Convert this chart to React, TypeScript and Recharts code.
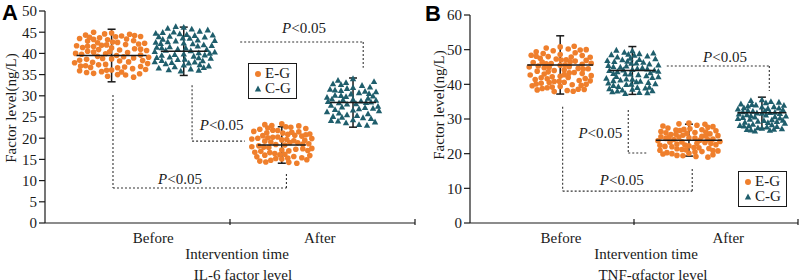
import React from 'react';
import { ScatterChart, Scatter, XAxis, YAxis, ErrorBar, ReferenceLine, ReferenceDot, Legend } from 'recharts';

const ORANGE = '#EF7F2C';
const TEAL = '#1F5E6C';
const INK = '#1a1a1a';
const SERIF = '"Liberation Serif", "Times New Roman", serif';
const SANS = '"Liberation Sans", Arial, sans-serif';

const categories = ['Before', 'After'];
const groups = ['E-G', 'C-G'];

// IL-6 (ng/L), individual values
const il6EgBefore = [44.8, 36.1, 41.3, 38.7, 43.2, 35.0, 39.9, 42.6, 37.4, 40.8, 34.6, 44.1, 38.2, 41.9, 36.8, 43.7, 39.3, 35.7, 42.1, 40.2, 37.9, 44.5, 36.4, 41.6, 38.9, 43.0, 35.3, 40.5, 42.9, 37.1, 39.6, 44.0, 36.9, 41.1, 38.4, 43.5, 34.9, 40.0, 42.4, 37.6, 45.0, 39.1, 35.9, 41.8, 38.0, 43.9, 36.2, 40.7, 42.2, 37.3, 39.5, 44.3, 35.5, 41.4, 38.6, 43.3, 36.6, 40.3, 42.7, 37.8, 34.4, 39.8, 44.6, 36.0, 41.0, 38.3, 43.8, 35.2, 40.9, 42.0, 37.0, 39.2, 44.2, 36.7, 41.7, 38.8, 43.4, 35.6, 40.4, 42.5];
const il6CgBefore = [46.1, 37.2, 42.4, 39.8, 44.6, 36.3, 41.0, 43.5, 38.5, 40.6, 45.7, 37.9, 42.9, 39.1, 44.0, 36.8, 41.5, 43.1, 38.2, 40.1, 45.2, 36.0, 42.0, 39.5, 44.9, 37.5, 41.3, 43.8, 38.8, 40.4, 46.3, 37.0, 42.6, 39.3, 44.3, 36.5, 41.8, 43.3, 38.0, 40.9, 45.5, 37.7, 42.2, 39.7, 44.7, 36.1, 41.2, 43.6, 38.6, 40.3, 45.0, 37.3, 42.7, 39.0, 44.2, 36.6, 41.7, 43.0, 38.3, 40.7, 45.9, 37.8, 42.3, 39.6, 44.4, 35.8, 41.4, 43.9, 38.9, 40.0];
const il6EgAfter = [23.4, 15.1, 19.6, 17.2, 21.8, 14.3, 18.5, 20.9, 16.4, 19.0, 22.6, 15.7, 20.2, 17.8, 21.3, 14.8, 18.9, 20.5, 16.0, 19.3, 23.0, 15.4, 20.0, 17.5, 22.1, 14.6, 18.2, 21.0, 16.7, 19.8, 22.9, 15.9, 20.7, 17.0, 21.6, 14.1, 18.7, 20.3, 16.2, 19.5, 23.2, 15.2, 19.9, 17.4, 22.3, 14.9, 18.0, 21.2, 16.6, 19.1, 22.7, 15.6, 20.6, 17.9, 21.5, 14.4, 18.4, 20.8, 16.9, 19.4, 22.4, 15.3, 20.1, 17.6, 21.9, 16.1, 18.6, 21.4, 17.1, 19.7];
const il6CgAfter = [34.0, 24.3, 29.1, 26.6, 31.9, 23.2, 28.0, 30.7, 25.5, 28.7, 33.1, 24.8, 29.8, 27.2, 32.4, 23.6, 28.3, 31.2, 25.9, 29.4, 33.6, 24.0, 30.1, 27.0, 32.0, 23.0, 27.7, 30.9, 26.2, 28.9, 33.3, 24.6, 29.6, 26.9, 31.5, 25.1, 28.5, 30.4, 26.4, 29.2, 32.8, 24.1, 30.0, 27.5, 31.7, 23.8, 28.1, 31.0, 25.7, 29.0, 32.6, 24.9, 29.9, 27.3, 31.3, 25.3, 28.6, 30.5, 26.7, 28.4];
// mean and SD, order: E-G before, C-G before, E-G after, C-G after
const il6Mean = [39.5, 40.5, 18.4, 28.4];
const il6Sd = [6.2, 5.7, 4.3, 5.8];

// TNF-α (ng/L), individual values
const tnfEgBefore = [50.8, 39.4, 45.5, 42.3, 48.6, 38.2, 44.0, 47.1, 40.8, 46.0, 49.7, 39.9, 45.1, 41.6, 48.0, 37.9, 43.4, 46.7, 40.3, 44.8, 50.2, 39.0, 45.8, 42.0, 49.1, 38.6, 43.8, 47.5, 41.1, 46.3, 50.5, 40.0, 44.5, 42.7, 48.3, 38.4, 43.1, 47.8, 41.4, 45.3, 49.4, 39.6, 46.1, 42.5, 48.9, 38.0, 44.2, 47.3, 40.6, 45.0, 50.0, 39.2, 45.9, 41.9, 48.4, 38.8, 43.6, 46.9, 41.0, 44.6, 49.9, 40.1, 45.6, 42.2, 47.9, 38.5, 43.0, 46.5, 40.5, 44.4, 51.0, 39.7, 46.4, 42.8, 48.1, 41.7, 43.3, 47.0, 40.9, 44.9];
const tnfCgBefore = [49.6, 38.5, 44.2, 41.4, 47.5, 37.6, 43.0, 46.1, 39.9, 44.7, 48.8, 38.9, 43.6, 40.8, 47.0, 37.3, 42.4, 45.8, 39.3, 44.0, 49.2, 38.1, 43.9, 41.0, 48.1, 37.8, 42.7, 46.5, 40.1, 45.2, 49.8, 39.0, 44.4, 41.7, 47.3, 38.3, 42.1, 46.8, 40.5, 45.5, 48.5, 38.7, 44.9, 41.2, 47.8, 37.5, 43.3, 46.3, 40.3, 45.0, 49.0, 39.6, 43.7, 41.9, 48.3, 38.0, 42.9, 46.0, 40.7, 44.5, 48.6, 39.1, 45.4, 42.2, 47.1, 40.0, 43.1, 46.6, 41.5, 44.1];
const tnfEgAfter = [28.8, 20.1, 24.6, 22.3, 27.0, 19.2, 23.4, 26.1, 21.2, 25.0, 28.2, 20.6, 24.1, 22.0, 26.8, 19.5, 23.0, 25.7, 21.5, 24.4, 28.5, 20.3, 25.2, 22.6, 27.4, 19.0, 23.7, 26.4, 21.0, 24.8, 27.8, 20.8, 25.5, 22.1, 26.9, 19.7, 23.2, 26.0, 21.8, 24.2, 28.0, 20.0, 24.9, 22.8, 27.2, 19.4, 23.5, 25.9, 21.4, 24.5, 28.6, 20.5, 25.3, 22.4, 26.6, 19.9, 23.9, 26.2, 21.7, 24.0, 27.6, 20.9, 25.1, 22.5, 26.7, 21.1, 23.3, 25.6, 22.9, 24.7];
const tnfCgAfter = [35.5, 27.3, 31.6, 29.5, 34.0, 26.7, 30.5, 33.0, 28.4, 31.9, 35.0, 27.8, 31.2, 29.0, 33.7, 26.9, 30.2, 32.6, 28.7, 31.4, 34.8, 27.1, 32.2, 29.7, 34.3, 26.5, 30.8, 33.4, 28.1, 31.8, 35.3, 27.6, 32.0, 29.3, 33.5, 27.0, 30.4, 32.8, 28.9, 31.1, 34.6, 27.4, 31.7, 29.9, 33.9, 26.8, 30.1, 33.1, 28.3, 31.5, 34.1, 28.0, 32.4, 29.2, 33.2, 27.9, 30.6, 32.3, 29.6, 30.9];
const tnfMean = [45.6, 44.0, 23.9, 31.8];
const tnfSd = [8.4, 6.9, 4.6, 4.5];

const il6Ticks = [0, 5, 10, 15, 20, 25, 30, 35, 40, 45, 50];
const tnfTicks = [0, 10, 20, 30, 40, 50, 60];
const pText = '<0.05';

const HEIGHT = 280;
const X_AXIS_H = 57;
const X_MAX = 4;

const panels = [
  {
    letter: 'A', left: 0, width: 420, yAxisW: 45, top: 11, right: 5,
    yMax: 50, yTicks: il6Ticks,
    series: [[il6EgBefore, il6EgAfter], [il6CgBefore, il6CgAfter]],
    mean: il6Mean, sd: il6Sd,
    groupX: [0.72, 1.5, 2.56, 3.33],
    spreadW: [76, 64, 62, 54],
    meanW: [70, 46, 48, 46],
    labelX: [1.17, 2.97],
    title: 'IL-6 factor level', titleDx: [7, 13],
    yTitle: { x: 16, y: 108 }, letterPos: { x: 2, y: 20 },
    legend: { left: 248, top: 63 },
    brackets: [
      [[2.11, 42.7], [3.44, 42.7], [3.44, 36.6]],
      [[1.59, 32.5], [1.59, 19.3], [2.16, 19.3]],
      [[0.735, 30.2], [0.735, 8.25], [2.61, 8.25], [2.61, 11.8]],
    ],
    pLabels: [[2.8, 44.8], [1.91, 21.9], [1.46, 9.2]],
  },
  {
    letter: 'B', left: 400, width: 400, yAxisW: 70, top: 15, right: 2,
    yMax: 60, yTicks: tnfTicks,
    series: [[tnfEgBefore, tnfEgAfter], [tnfCgBefore, tnfCgAfter]],
    mean: tnfMean, sd: tnfSd,
    groupX: [1.1, 1.98, 2.67, 3.56],
    spreadW: [64, 54, 64, 50],
    meanW: [66, 46, 66, 49],
    labelX: [1.11, 3.15],
    title: 'TNF-αfactor level', titleDx: [12, 19],
    yTitle: { x: 44, y: 105 }, letterPos: { x: 25, y: 21 },
    legend: { left: 338, top: 171 },
    brackets: [
      [[2.4, 45.3], [3.65, 45.3], [3.65, 38.1]],
      [[1.93, 32.6], [1.93, 20.2], [2.16, 20.2]],
      [[1.13, 33.5], [1.13, 9.2], [2.71, 9.2], [2.71, 15.9]],
    ],
    pLabels: [[3.11, 46.4], [1.59, 24.5], [1.85, 11.0]],
  },
];

// spread points sideways so they don't pile up (dot-plot layout)
function swarm(values: number[], center: number, widthPx: number, pxPerX: number, pxPerY: number) {
  const D2 = 7.5 * 7.5;
  const lo = Math.min(...values), hi = Math.max(...values);
  const mid = (lo + hi) / 2, half = (hi - lo) / 2 || 1;
  const placed: Array<[number, number]> = [];
  return values.map((v, i) => {
    const py = v * pxPerY;
    const t = (v - mid) / half;
    const hw = Math.floor((widthPx / 2) * (0.62 + 0.38 * Math.sqrt(Math.max(0, 1 - t * t))));
    const s = i % 2 ? 1 : -1;
    let best = 0, bestScore = -1;
    for (let k = 0; k <= 2 * hw; k++) {
      const c = k === 0 ? 0 : (k % 2 ? s : -s) * Math.ceil(k / 2);
      let d = D2;
      for (const [qx, qy] of placed) {
        const dd = (qx - c) ** 2 + (qy - py) ** 2;
        if (dd < d) d = dd;
      }
      if (d > bestScore) { best = c; bestScore = d; }
    }
    placed.push([best, py]);
    return { x: center + best / pxPerX, y: v };
  });
}

const DotShape = (p: any) => <circle cx={p.cx} cy={p.cy} r={2.8} fill={ORANGE} />;
const TriShape = (p: any) => (
  <path d={`M${p.cx},${p.cy - 3.5}L${p.cx + 3.2},${p.cy + 2.3}L${p.cx - 3.2},${p.cy + 2.3}Z`} fill={TEAL} />
);
const MeanShape = (p: any) => (
  <line x1={p.cx - p.payload.w / 2} x2={p.cx + p.payload.w / 2} y1={p.cy} y2={p.cy} stroke={INK} strokeWidth={1.5} />
);

function LegendBox({ payload }: any) {
  const items = (payload || [])
    .filter((e: any) => groups.includes(e.value))
    .sort((a: any, b: any) => groups.indexOf(a.value) - groups.indexOf(b.value));
  return (
    <div style={{ border: `1px solid ${INK}`, padding: '2px 5px 2px 4px', fontFamily: SERIF, fontSize: 15, lineHeight: '15px', background: '#fff', color: INK }}>
      {items.map((e: any) => (
        <div key={e.value} style={{ display: 'flex', alignItems: 'center', whiteSpace: 'nowrap' }}>
          <svg width={10} height={10} style={{ marginRight: 2 }}>
            {e.value === groups[0]
              ? <circle cx={5} cy={5} r={3} fill={ORANGE} />
              : <path d="M5,1.5L8.2,7.5L1.8,7.5Z" fill={TEAL} />}
          </svg>
          <span>{e.value}</span>
        </div>
      ))}
    </div>
  );
}

function Panel({ cfg }: { cfg: typeof panels[number] }) {
  const plotW = cfg.width - cfg.yAxisW - cfg.right;
  const plotH = HEIGHT - cfg.top - X_AXIS_H;
  const pxPerX = plotW / X_MAX;
  const pxPerY = plotH / cfg.yMax;
  const plotBottom = cfg.top + plotH;
  const plotCx = cfg.yAxisW + plotW / 2;

  const pointsFor = (gi: number) =>
    [0, 1].flatMap((ci) => swarm(cfg.series[gi][ci], cfg.groupX[ci * 2 + gi], cfg.spreadW[ci * 2 + gi], pxPerX, pxPerY));
  const eg = pointsFor(0);
  const cg = pointsFor(1);
  const summary = cfg.mean.map((m, i) => ({ x: cfg.groupX[i], y: m, sd: cfg.sd[i], w: cfg.meanW[i] }));

  const xTicks = [cfg.labelX[0], X_MAX / 2, cfg.labelX[1], X_MAX];
  const renderXTick = (p: any) => {
    const i = cfg.labelX.indexOf(p.payload.value);
    if (i >= 0) {
      return <text x={p.x} y={p.y + 18} textAnchor="middle" fontFamily={SERIF} fontSize={15} fill={INK}>{categories[i]}</text>;
    }
    return <line x1={p.x} x2={p.x} y1={p.y} y2={p.y - 6} stroke={INK} strokeWidth={1.2} />;
  };

  return (
    <div style={{ position: 'absolute', left: cfg.left, top: 0 }}>
      <ScatterChart width={cfg.width} height={HEIGHT} margin={{ top: cfg.top, right: cfg.right, bottom: 0, left: 0 }}>
        <XAxis
          type="number" dataKey="x" domain={[0, X_MAX]} ticks={xTicks} interval={0}
          height={X_AXIS_H} tickSize={0} tickLine={false} tick={renderXTick}
          axisLine={{ stroke: INK, strokeWidth: 1.2 }}
          label={{
            content: () => (
              <g>
                <text x={plotCx + cfg.titleDx[0]} y={plotBottom + 36} textAnchor="middle" fontFamily={SERIF} fontSize={15} fill={INK}>Intervention time</text>
                <text x={plotCx + cfg.titleDx[1]} y={plotBottom + 57} textAnchor="middle" fontFamily={SERIF} fontSize={15} fill={INK}>{cfg.title}</text>
              </g>
            ),
          }}
        />
        <YAxis
          type="number" dataKey="y" domain={[0, cfg.yMax]} ticks={cfg.yTicks} interval={0}
          width={cfg.yAxisW} tickSize={6} tickMargin={2}
          tick={{ fill: INK, fontSize: 15, fontFamily: SERIF }}
          tickLine={{ stroke: INK, strokeWidth: 1.2 }}
          axisLine={{ stroke: INK, strokeWidth: 1.2 }}
          label={{
            content: () => (
              <g>
                <text x={cfg.letterPos.x} y={cfg.letterPos.y} fontFamily={SANS} fontWeight="bold" fontSize={22} fill="#000">{cfg.letter}</text>
                <text x={cfg.yTitle.x} y={cfg.yTitle.y} transform={`rotate(-90 ${cfg.yTitle.x} ${cfg.yTitle.y})`} textAnchor="middle" fontFamily={SERIF} fontSize={15} fill={INK}>Factor level(ng/L)</text>
              </g>
            ),
          }}
        />
        {cfg.brackets.flatMap((pts, bi) =>
          pts.slice(1).map((pt, k) => (
            <ReferenceLine
              key={`b${bi}-${k}`}
              segment={[{ x: pts[k][0], y: pts[k][1] }, { x: pt[0], y: pt[1] }]}
              stroke="#333" strokeWidth={1.1} strokeDasharray="2 2"
            />
          ))
        )}
        <Scatter name={groups[0]} data={eg} fill={ORANGE} shape={DotShape} legendType="circle" isAnimationActive={false} />
        <Scatter name={groups[1]} data={cg} fill={TEAL} shape={TriShape} legendType="triangle" isAnimationActive={false} />
        <Scatter name="mean" data={summary} shape={MeanShape} legendType="none" isAnimationActive={false}>
          <ErrorBar dataKey="sd" direction="y" width={4} stroke={INK} strokeWidth={1.5} isAnimationActive={false} />
        </Scatter>
        {cfg.pLabels.map(([x, y], i) => (
          <ReferenceDot
            key={`p${i}`} x={x} y={y} r={0}
            shape={(p: any) => (
              <text x={p.cx} y={p.cy} textAnchor="middle" fontFamily={SERIF} fontSize={15} fill={INK}>
                <tspan fontStyle="italic">P</tspan>{pText}
              </text>
            )}
          />
        ))}
        <Legend
          layout="vertical" align="center" verticalAlign="middle"
          wrapperStyle={{ position: 'absolute', left: cfg.legend.left, top: cfg.legend.top, width: 'auto', height: 'auto' }}
          content={(p: any) => <LegendBox payload={p.payload} />}
        />
      </ScatterChart>
    </div>
  );
}

export default function App() {
  return (
    <div style={{ position: 'fixed', left: 0, top: 0, width: 800, height: 280, background: '#fff', overflow: 'hidden' }}>
      {panels.map((cfg) => <Panel key={cfg.letter} cfg={cfg} />)}
    </div>
  );
}
